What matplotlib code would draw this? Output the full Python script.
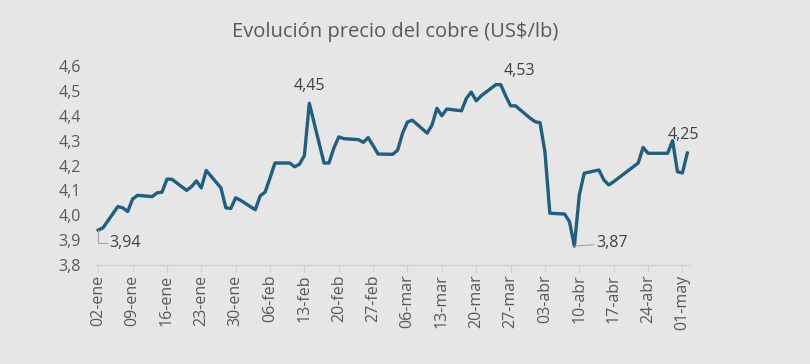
import pandas as pd
import matplotlib
matplotlib.use("Agg")
import matplotlib.pyplot as plt
import matplotlib.dates as mdates
from matplotlib.ticker import FuncFormatter

# dias habiles (sin feriados LME 18 y 21 de abril)
fechas = pd.bdate_range("2025-01-02", "2025-05-02")
fechas = fechas.drop(pd.to_datetime(["2025-04-18", "2025-04-21"]))

precio = [
    # enero
    3.94, 3.95, 4.035, 4.03, 4.015, 4.065, 4.08, 4.075, 4.09, 4.093, 4.145,
    4.145, 4.10, 4.115, 4.138, 4.11, 4.18, 4.11, 4.03, 4.027, 4.07, 4.06,
    # febrero
    4.022, 4.078, 4.093, 4.15, 4.21, 4.21, 4.195, 4.205, 4.24, 4.45,
    4.21, 4.21, 4.27, 4.315, 4.308, 4.304, 4.293, 4.312, 4.28, 4.246,
    # marzo
    4.245, 4.262, 4.33, 4.375, 4.382, 4.33, 4.363, 4.43, 4.40, 4.427,
    4.42, 4.47, 4.495, 4.46, 4.48, 4.525, 4.525, 4.48, 4.44, 4.44, 4.39,
    # abril
    4.376, 4.372, 4.255, 4.008, 4.005, 3.974, 3.876, 4.081, 4.169, 4.182,
    4.142, 4.122, 4.135, 4.21, 4.273, 4.249, 4.249, 4.249, 4.30, 4.175,
    # mayo
    4.17, 4.25,
]

etiquetas_x = ["02-ene", "09-ene", "16-ene", "23-ene", "30-ene", "06-feb",
               "13-feb", "20-feb", "27-feb", "06-mar", "13-mar", "20-mar",
               "27-mar", "03-abr", "10-abr", "17-abr", "24-abr", "01-may"]
ticks_x = pd.date_range("2025-01-02", periods=len(etiquetas_x), freq="7D")
ticks_y = [3.8, 3.9, 4.0, 4.1, 4.2, 4.3, 4.4, 4.5, 4.6]

# puntos con etiqueta de dato
fechas_etiqueta = ["2025-01-02", "2025-02-14", "2025-03-25", "2025-04-09", "2025-05-02"]
textos_etiqueta = ["3,94", "4,45", "4,53", "3,87", "4,25"]

fondo = "#E7E6E6"
azul = "#1F5F7F"
gris = "#595959"

plt.rcParams['font.family'] = ['Open Sans', 'DejaVu Sans']
fig = plt.figure(figsize=(8.1, 3.64), dpi=100, facecolor=fondo)
ax = fig.add_axes([96 / 810, 99 / 364, 594 / 810, 199 / 364], facecolor=fondo)

x = mdates.date2num(fechas)
ax.plot(x, precio, color=azul, lw=2.4, solid_joinstyle="round", clip_on=False)

ax.set_ylim(3.8, 4.6)
ax.set_yticks(ticks_y)
ax.yaxis.set_major_formatter(FuncFormatter(lambda v, p: f"{v:.1f}".replace(".", ",")))
ax.set_xlim(x[0] - 0.45, x[-1] + 0.55)
ax.set_xticks(mdates.date2num(ticks_x))
ax.set_xticklabels(etiquetas_x, rotation=90)

for s in ["top", "right", "left"]:
    ax.spines[s].set_visible(False)
ax.spines["bottom"].set_color("#D0CECE")
ax.spines["bottom"].set_linewidth(0.8)
ax.tick_params(axis="y", length=0, pad=11, labelsize=11.5, labelcolor=gris)
ax.tick_params(axis="x", length=5, width=0.8, color="#D0CECE", pad=2,
               labelsize=11.5, labelcolor=gris)

fig.text(395 / 810, 1 - 32 / 364, "Evolución precio del cobre (US$/lb)",
         ha="center", va="center", fontsize=14.5, color=gris)

# etiquetas de datos
estilo = dict(fontsize=11.5, color="#404040", textcoords="offset points")
linea = dict(arrowstyle="-", color="#A6A6A6", lw=0.8, shrinkA=0, shrinkB=0)
pos = {pd.Timestamp(f): i for i, f in enumerate(fechas)}
for f, t in zip(fechas_etiqueta, textos_etiqueta):
    i = pos[pd.Timestamp(f)]
    xy = (x[i], precio[i])
    if t == "3,94":
        ax.annotate(t, xy, xytext=(8, -9), ha="left", va="center",
                    arrowprops=dict(linea, connectionstyle="angle,angleA=0,angleB=90,rad=0"), **estilo)
    elif t == "3,87":
        ax.annotate(t, xy, xytext=(16, 2), ha="left", va="center",
                    arrowprops=linea, **estilo)
    elif t == "4,53":
        ax.annotate(t, xy, xytext=(2, 4), ha="left", va="bottom", **estilo)
    elif t == "4,25":
        ax.annotate(t, xy, xytext=(-3, 7), ha="center", va="bottom", **estilo)
    else:
        ax.annotate(t, xy, xytext=(0, 7), ha="center", va="bottom", **estilo)

fig.savefig("out.png", dpi=100, facecolor=fondo)
